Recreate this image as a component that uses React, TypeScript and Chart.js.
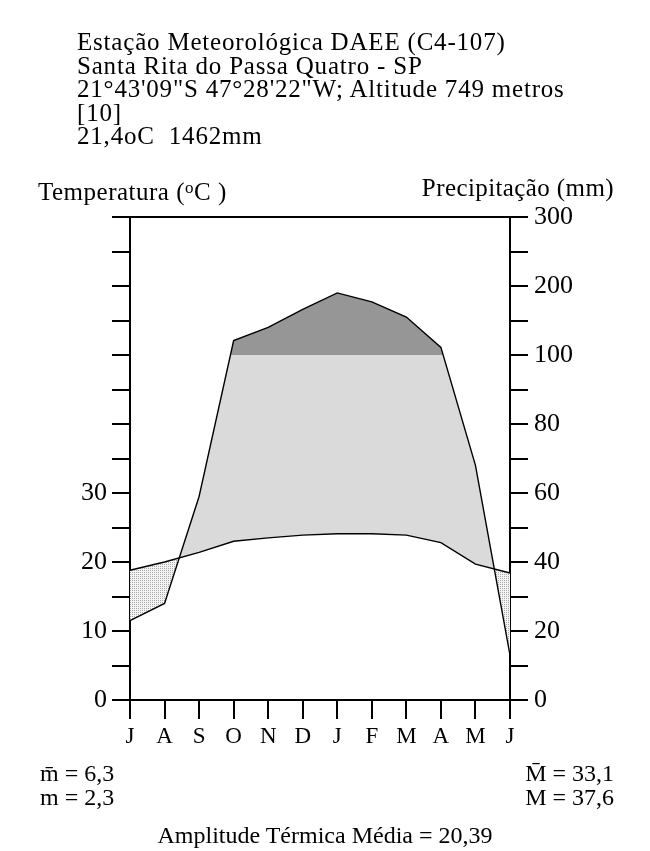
import React, { useEffect, useRef } from "react";
import { Chart, registerables } from "chart.js";

Chart.register(...registerables);

// Months (July to June)
const months = ["J", "A", "S", "O", "N", "D", "J", "F", "M", "A", "M", "J"];
// Mean monthly temperature (°C)
const temperature = [18.8, 20.0, 21.4, 23.0, 23.5, 23.9, 24.1, 24.1, 23.9, 22.8, 19.7, 18.4];
// Mean monthly precipitation (mm)
const precipitation = [23, 28, 59, 121, 140, 166, 190, 177, 155, 111, 68, 13];

// Left axis tick labels (°C) and right axis tick labels (mm), keyed by chart unit
const tempTickLabels: Record<number, string> = { 0: "0", 10: "10", 20: "20", 30: "30" };
const precipTickLabels: Record<number, string> = {
  0: "0", 10: "20", 20: "40", 30: "60", 40: "80", 50: "100", 60: "200", 70: "300",
};

const titleLines = [
  "Estação Meteorológica DAEE (C4-107)",
  "Santa Rita do Passa Quatro - SP",
  "21°43'09\"S 47°28'22\"W; Altitude 749 metros",
  "[10]",
  "21,4oC  1462mm",
];

// Walter-Lieth scale: 10 °C = 20 mm up to 100 mm, then 10 units = 100 mm
const toUnits = (p: number) => (p <= 100 ? p / 2 : 50 + (p - 100) / 10);

const FONT = "'Liberation Serif', 'Times New Roman', serif";

function makePattern(): CanvasPattern | string {
  const c = document.createElement("canvas");
  c.width = 2;
  c.height = 2;
  const g = c.getContext("2d");
  if (!g) return "#e6e6e6";
  g.fillStyle = "#f4f4f4";
  g.fillRect(0, 0, 2, 2);
  g.fillStyle = "#a8a8a8";
  g.fillRect(0, 0, 1, 1);
  const pat = g.createPattern(c, "repeat");
  return pat || "#e6e6e6";
}

function ClimateChart() {
  const ref = useRef<HTMLCanvasElement | null>(null);
  useEffect(() => {
    if (!ref.current) return;
    const pUnits = precipitation.map(toUnits);
    const pattern = makePattern();
    const chart = new Chart(ref.current, {
      type: "line",
      data: {
        labels: months,
        datasets: [
          {
            label: "Temperatura",
            data: temperature,
            borderColor: "#000",
            borderWidth: 1.4,
            pointRadius: 0,
            fill: false,
            tension: 0,
            order: 0,
            yAxisID: "y",
          },
          {
            label: "Precipitação",
            data: pUnits,
            borderColor: "#000",
            borderWidth: 1.4,
            pointRadius: 0,
            tension: 0,
            order: 1,
            yAxisID: "y",
            fill: { target: { value: 50 }, above: "#969696", below: "rgba(0,0,0,0)" },
          },
          {
            label: "Úmido/Seco",
            data: pUnits,
            borderColor: "rgba(0,0,0,0)",
            borderWidth: 0,
            pointRadius: 0,
            tension: 0,
            order: 2,
            yAxisID: "y",
            fill: { target: 0, above: "#dadada", below: pattern as any },
          },
        ],
      },
      options: {
        animation: false,
        responsive: false,
        devicePixelRatio: 1,
        layout: { padding: { top: 217, left: 0, right: 0, bottom: 0 } },
        plugins: { legend: { display: false }, tooltip: { enabled: false } },
        scales: {
          x: {
            type: "category",
            offset: false,
            border: { color: "#000", width: 2 },
            grid: { drawOnChartArea: false, tickLength: 19, tickColor: "#000", lineWidth: 2 },
            ticks: {
              color: "#000",
              font: { family: FONT, size: 23 },
              padding: 4,
              maxRotation: 0,
              autoSkip: false,
            },
            afterFit: (s: any) => {
              s.height = 151;
            },
          },
          y: {
            type: "linear",
            position: "left",
            min: 0,
            max: 70,
            border: { color: "#000", width: 2 },
            grid: {
              drawOnChartArea: true,
              tickLength: 18,
              tickColor: "#000",
              lineWidth: 2,
              color: (c: any) =>
                c.tick && (c.tick.value === 0 || c.tick.value === 70) ? "#000" : "rgba(0,0,0,0)",
            },
            ticks: {
              stepSize: 5,
              autoSkip: false,
              color: "#000",
              padding: 5,
              font: { family: FONT, size: 26 },
              callback: (v: any) => tempTickLabels[Number(v)] ?? "",
            },
            afterFit: (s: any) => {
              s.width = 130;
            },
          },
          y2: {
            type: "linear",
            position: "right",
            min: 0,
            max: 70,
            border: { color: "#000", width: 2 },
            grid: { drawOnChartArea: false, tickLength: 18, tickColor: "#000", lineWidth: 2 },
            ticks: {
              stepSize: 5,
              autoSkip: false,
              color: "#000",
              padding: 6,
              font: { family: FONT, size: 26 },
              callback: (v: any) => precipTickLabels[Number(v)] ?? "",
            },
            afterFit: (s: any) => {
              s.width = 140;
            },
          },
        },
      },
    });
    return () => chart.destroy();
  }, []);
  return (
    <canvas
      ref={ref}
      width={650}
      height={851}
      style={{ position: "absolute", left: 0, top: 0, width: 650, height: 851 }}
    />
  );
}

export default function App() {
  const text: React.CSSProperties = {
    position: "absolute",
    fontFamily: FONT,
    fontSize: 24,
    color: "#000",
    whiteSpace: "pre",
    lineHeight: "23.5px",
    margin: 0,
  };
  return (
    <div style={{ position: "absolute", left: 0, top: 0, width: 650, height: 851, background: "#fff" }}>
      <ClimateChart />
      <div style={{ ...text, left: 77, top: 30, fontSize: 25, letterSpacing: "0.8px" }}>
        {titleLines.map((l, i) => (
          <div key={i}>{l}</div>
        ))}
      </div>
      <div style={{ ...text, left: 38, top: 176, fontSize: 25, letterSpacing: "0.5px" }}>
        Temperatura (<sup style={{ fontSize: 17, verticalAlign: "7px" }}>o</sup>C )
      </div>
      <div style={{ ...text, right: 36, top: 176, fontSize: 25, letterSpacing: "0.4px" }}>
        Precipitação (mm)
      </div>
      <div style={{ ...text, left: 40, top: 762 }}>{"m\u0304 = 6,3"}</div>
      <div style={{ ...text, left: 40, top: 786 }}>m = 2,3</div>
      <div style={{ ...text, right: 36, top: 762 }}>{"M\u0304 = 33,1"}</div>
      <div style={{ ...text, right: 36, top: 786 }}>M = 37,6</div>
      <div style={{ ...text, left: 0, width: 650, textAlign: "center", top: 824 }}>
        Amplitude Térmica Média = 20,39
      </div>
    </div>
  );
}
